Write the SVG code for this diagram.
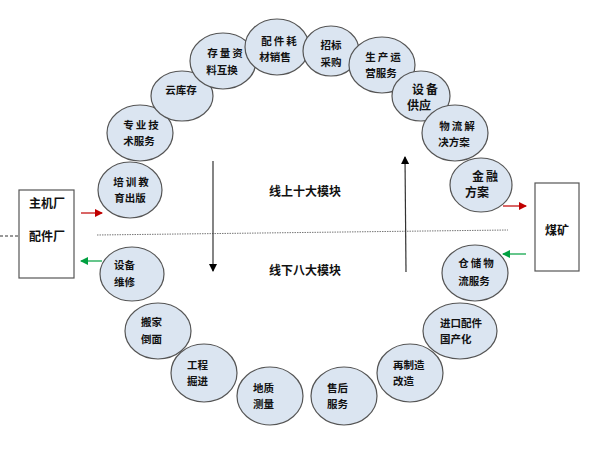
<svg xmlns="http://www.w3.org/2000/svg" width="600" height="460" viewBox="0 0 600 460">
<defs>
<marker id="ab" markerWidth="8" markerHeight="8" refX="7" refY="4" orient="auto" markerUnits="userSpaceOnUse"><path d="M0,0 L8,4 L0,8 z" fill="#000"/></marker>
<marker id="ar" markerWidth="8" markerHeight="8" refX="7" refY="4" orient="auto" markerUnits="userSpaceOnUse"><path d="M0,0 L8,4 L0,8 z" fill="#c00000"/></marker>
<marker id="ag" markerWidth="8" markerHeight="8" refX="7" refY="4" orient="auto" markerUnits="userSpaceOnUse"><path d="M0,0 L8,4 L0,8 z" fill="#00a040"/></marker>
</defs>
<style>
ellipse{fill:#dbe5f1;stroke:#555;stroke-width:1.2}
text{font-family:"Noto Sans CJK SC","Noto Sans CJK JP",sans-serif;font-weight:bold;fill:#111}
.n{font-size:10.5px}
.m{text-anchor:middle}
.sp{letter-spacing:2px}
.big{font-size:12px}
.c{font-size:12px;font-weight:600}
.box{fill:#fff;stroke:#555;stroke-width:1.2}
</style>
<rect width="600" height="460" fill="#fff"/>
<g id="connectors">
<line x1="0" y1="236" x2="19" y2="236" stroke="#333" stroke-width="1" stroke-dasharray="3,2"/>
<line x1="97" y1="235" x2="508" y2="230" stroke="#777" stroke-width="1" stroke-dasharray="1.5,1"/>
<line x1="213" y1="161" x2="213" y2="271" stroke="#333" stroke-width="1.2" marker-end="url(#ab)"/>
<line x1="406" y1="272" x2="405" y2="157" stroke="#333" stroke-width="1.2" marker-end="url(#ab)"/>
<line x1="81" y1="213" x2="102" y2="213" stroke="#c00000" stroke-width="1.2" marker-end="url(#ar)"/>
<line x1="503" y1="206" x2="526" y2="206" stroke="#c00000" stroke-width="1.2" marker-end="url(#ar)"/>
<line x1="102" y1="261" x2="81" y2="261" stroke="#00a040" stroke-width="1.2" marker-end="url(#ag)"/>
<line x1="526" y1="254" x2="503" y2="254" stroke="#00a040" stroke-width="1.2" marker-end="url(#ag)"/>
</g>
<g id="labels">
<text class="c" x="269" y="196">线上十大模块</text>
<text class="c" x="269" y="275">线下八大模块</text>
</g>
<g id="n-zhuji"><rect class="box" x="19" y="190" width="55" height="88"/><text class="big" x="29" y="208">主机厂</text><text class="big" x="29" y="241">配件厂</text></g>
<g id="n-meikuang"><rect class="box" x="535" y="183" width="44" height="88"/><text class="big" x="545" y="235">煤矿</text></g>
<g id="n1"><ellipse cx="130" cy="190" rx="32" ry="28"/><text class="n m sp" x="132" y="186">培训教</text><text class="n m" x="130" y="202">育出版</text></g>
<g id="n2"><ellipse cx="140" cy="133" rx="33" ry="28"/><text class="n m sp" x="142" y="129">专业技</text><text class="n m" x="139" y="145">术服务</text></g>
<g id="n3"><ellipse cx="182" cy="96" rx="31" ry="25"/><text class="n m" x="181" y="94">云库存</text></g>
<g id="n4"><ellipse cx="223" cy="61" rx="33" ry="28"/><text class="n m sp" x="226" y="57">存量资</text><text class="n m" x="222" y="74">料互换</text></g>
<g id="n5"><ellipse cx="277" cy="47" rx="32" ry="28"/><text class="n m sp" x="280" y="45">配件耗</text><text class="n m" x="275" y="61">材销售</text></g>
<g id="n6"><ellipse cx="331" cy="51" rx="28" ry="25"/><text class="n m" x="331" y="49">招标</text><text class="n m" x="331" y="66">采购</text></g>
<g id="n7"><ellipse cx="382" cy="65" rx="33" ry="28"/><text class="n m sp" x="384" y="61">生产运</text><text class="n m" x="381" y="77">营服务</text></g>
<g id="n8"><ellipse cx="421" cy="96" rx="29" ry="25"/><text class="big m sp" x="426" y="94">设备</text><text class="big m" x="419" y="110">供应</text></g>
<g id="n9"><ellipse cx="455" cy="133" rx="33" ry="28"/><text class="n m sp" x="458" y="130">物流解</text><text class="n m" x="454" y="146">决方案</text></g>
<g id="n10"><ellipse cx="481" cy="185" rx="31" ry="27"/><text class="big m sp" x="486" y="181">金融</text><text class="big m" x="477" y="197">方案</text></g>
<g id="n11"><ellipse cx="132" cy="274" rx="32" ry="27"/><text class="n" x="114" y="269">设备</text><text class="n" x="114" y="286">维修</text></g>
<g id="n12"><ellipse cx="158" cy="331" rx="33" ry="28"/><text class="n" x="141" y="326">搬家</text><text class="n" x="141" y="343">倒面</text></g>
<g id="n13"><ellipse cx="204" cy="373" rx="33" ry="29"/><text class="n" x="187" y="369">工程</text><text class="n" x="187" y="385">掘进</text></g>
<g id="n14"><ellipse cx="270" cy="396" rx="33" ry="29"/><text class="n" x="253" y="392">地质</text><text class="n" x="253" y="408">测量</text></g>
<g id="n15"><ellipse cx="344" cy="396" rx="33" ry="29"/><text class="n" x="327" y="392">售后</text><text class="n" x="327" y="408">服务</text></g>
<g id="n16"><ellipse cx="410" cy="373" rx="33" ry="29"/><text class="n" x="393" y="369">再制造</text><text class="n" x="393" y="385">改造</text></g>
<g id="n17"><ellipse cx="460" cy="331" rx="37" ry="28"/><text class="n" x="440" y="327">进口配件</text><text class="n" x="440" y="343">国产化</text></g>
<g id="n18"><ellipse cx="475" cy="273" rx="33" ry="28"/><text class="n m sp" x="477" y="267">仓储物</text><text class="n m" x="474" y="285">流服务</text></g>
</svg>
